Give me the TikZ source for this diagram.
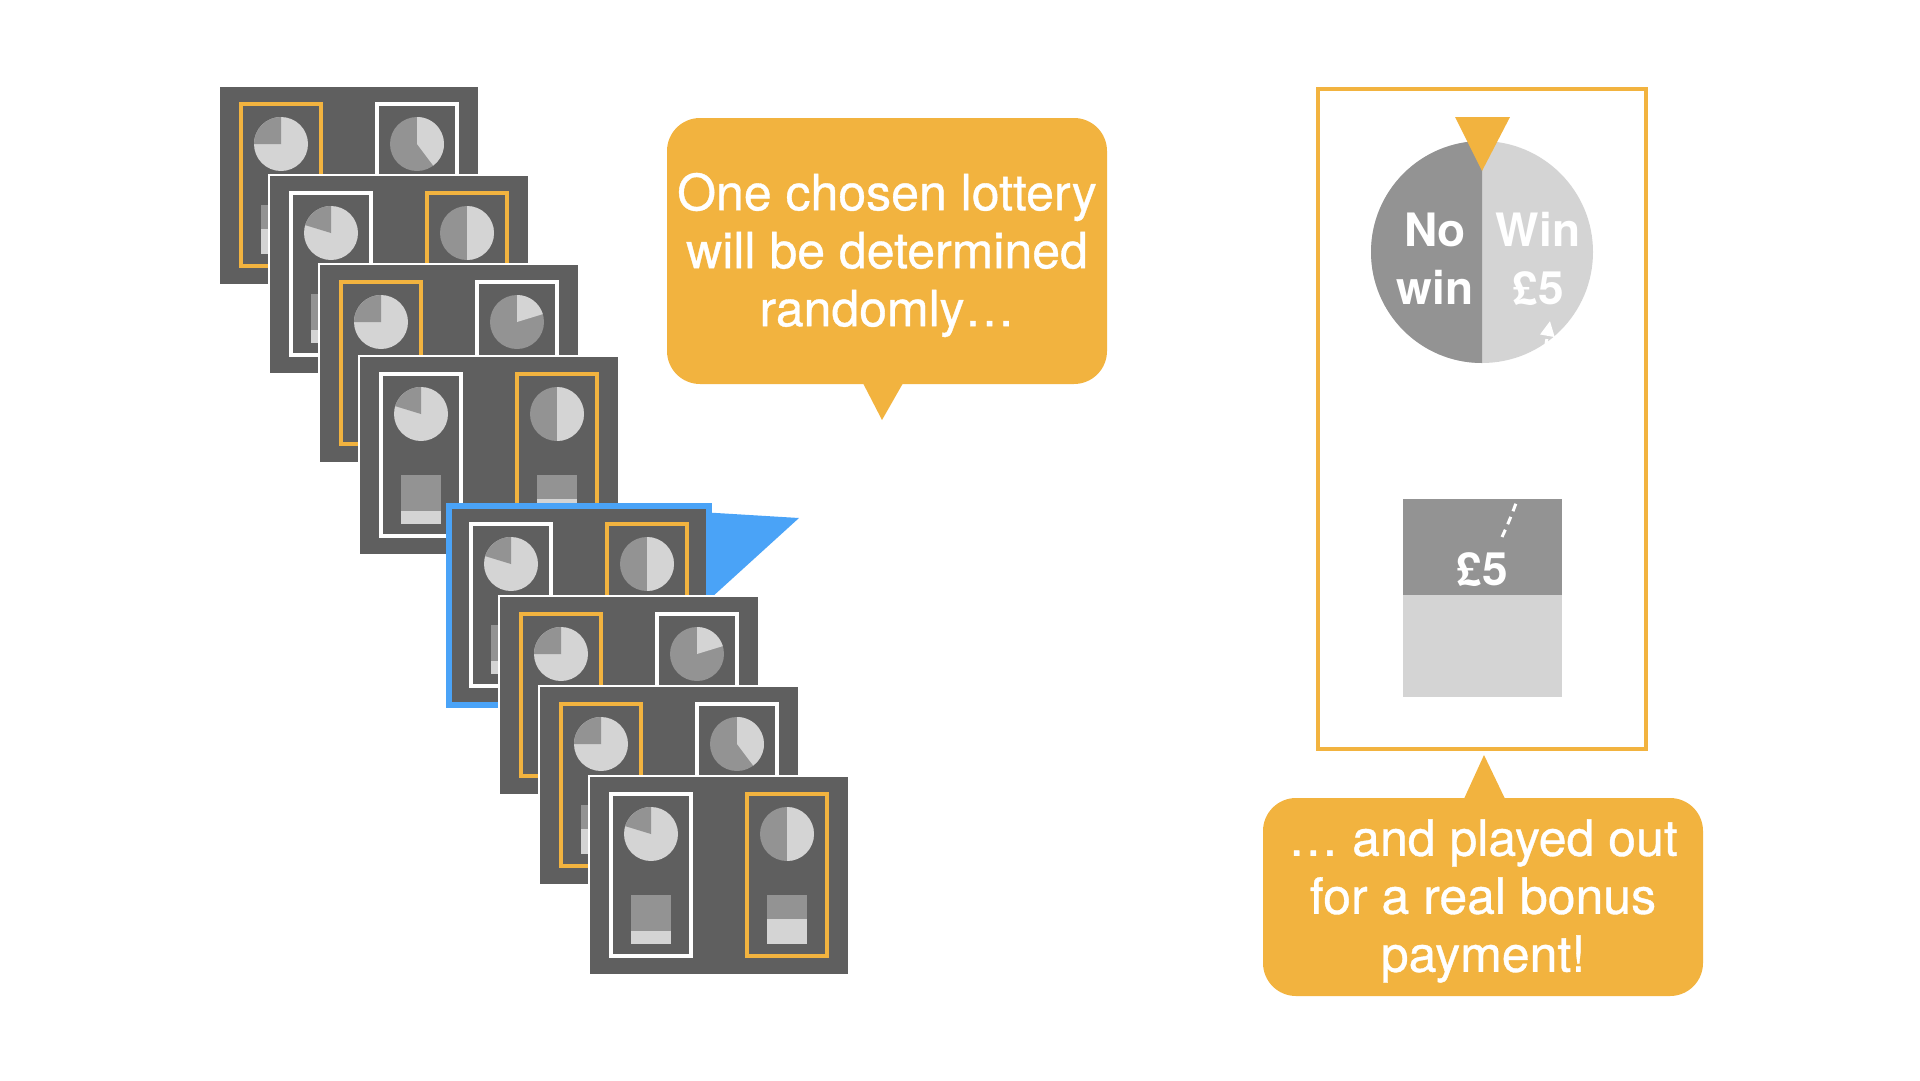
\documentclass[tikz,border=0pt]{standalone}
\usepackage{fontspec}
\setmainfont{TeX Gyre Heros}
\newfontfamily\bubblefont[FakeBold=0.7]{TeX Gyre Heros}
\usetikzlibrary{arrows.meta}
\definecolor{cardgray}{HTML}{5F5F5F}
\definecolor{piedark}{HTML}{939393}
\definecolor{pielight}{HTML}{D4D4D4}
\definecolor{lotorange}{HTML}{F2B33F}
\definecolor{pickblue}{HTML}{4AA3F7}
\begin{document}
\begin{tikzpicture}[x=1pt,y=1pt,
        bubble/.style={fill=lotorange, rounded corners=33, inner sep=0},
        bubbletext/.style={text=white, align=center, font=\bubblefont\fontsize{50}{58}\selectfont},
        wheeltext/.style={text=white, align=center, inner sep=0, font=\bfseries\fontsize{46}{58}\selectfont}]
    \useasboundingbox (0,0) rectangle (1920,-1080);

    \fill[pickblue] (700,-512) -- (799,-518) -- (700,-608) -- cycle;

    \foreach \cx/\cy/\edge/\lw/\lc/\rc/\la/\ra/\ls in {
            219/86/white/2/lotorange/white/180/-53/143,
            269/175/white/2/white/lotorange/163/-90/155,
            319/264/white/2/lotorange/white/180/17/143,
            359/356/white/2/white/lotorange/163/-90/155,
            449/506/pickblue/6/white/lotorange/163/-90/155,
            499/596/white/2/lotorange/white/180/17/143,
            539/686/white/2/lotorange/white/180/-53/143,
            589/776/white/2/white/lotorange/163/-90/155}{
        \begin{scope}[shift={(\cx,-\cy)}]
            \draw[fill=cardgray, draw=\edge, line width=\lw] (0,0) rectangle (260,-199);
            \draw[draw=\lc, line width=4] (22,-18) rectangle (102,-180);
            \draw[draw=\rc, line width=4] (158,-18) rectangle (238,-180);
            \fill[pielight] (62,-58) circle (27);
            \fill[piedark] (62,-58) -- ++(90:27) arc (90:\la:27) -- cycle;
            \fill[piedark] (198,-58) circle (27);
            \fill[pielight] (198,-58) -- ++(\ra:27) arc (\ra:90:27) -- cycle;
            \fill[piedark] (42,-119) rectangle (82,-\ls);
            \fill[pielight] (42,-\ls) rectangle (82,-168);
            \fill[piedark] (178,-119) rectangle (218,-143);
            \fill[pielight] (178,-143) rectangle (218,-168);
        \end{scope}
    }

    \node[bubble, minimum width=440, minimum height=266] (pick) at (887,-251) {};
    \coordinate (pick tip) at (882,-420);
    \fill[lotorange] ([xshift=-24,yshift=1]pick.south) -- (pick tip) -- ([xshift=16,yshift=1]pick.south) -- cycle;
    \node[bubbletext] (picktext) at (887,-255) {One chosen lottery\\will be determined\\randomly…};

    \draw[lotorange, line width=4] (1318,-89) rectangle (1646,-749);
    \fill[pielight] (1482,-252) circle (111);
    \fill[piedark] (1482,-252) -- (1482,-141) arc (90:270:111) -- cycle;
    \fill[lotorange] (1455,-117) -- (1510,-117) -- (1482,-171) -- cycle;
    \node[wheeltext] (nowin) at (1435,-259) {No\\win};
    \node[wheeltext] (winfive) at (1538,-259) {Win\\£5};

    \fill[piedark] (1403,-499) rectangle (1562,-595);
    \fill[pielight] (1403,-595) rectangle (1562,-697);
    \node[wheeltext, anchor=base] (prize) at (1482,-585) {£5};
    \coordinate (prize start) at (1502,-537);
    \coordinate (prize end) at (1550,-321);
    \draw[white, line width=3, dash pattern=on 8 off 6, -{Triangle[width=14,length=15]}] (prize start) to[out=65,in=-100] (prize end);

    \node[bubble, minimum width=440, minimum height=198] (payout) at (1483,-897) {};
    \coordinate (payout tip) at (1484,-755);
    \fill[lotorange] ([xshift=-19,yshift=-1]payout.north) -- (payout tip) -- ([xshift=22,yshift=-1]payout.north) -- cycle;
    \node[bubbletext] (payouttext) at (1483,-901) {… and played out\\for a real bonus\\payment!};
\end{tikzpicture}
\end{document}
